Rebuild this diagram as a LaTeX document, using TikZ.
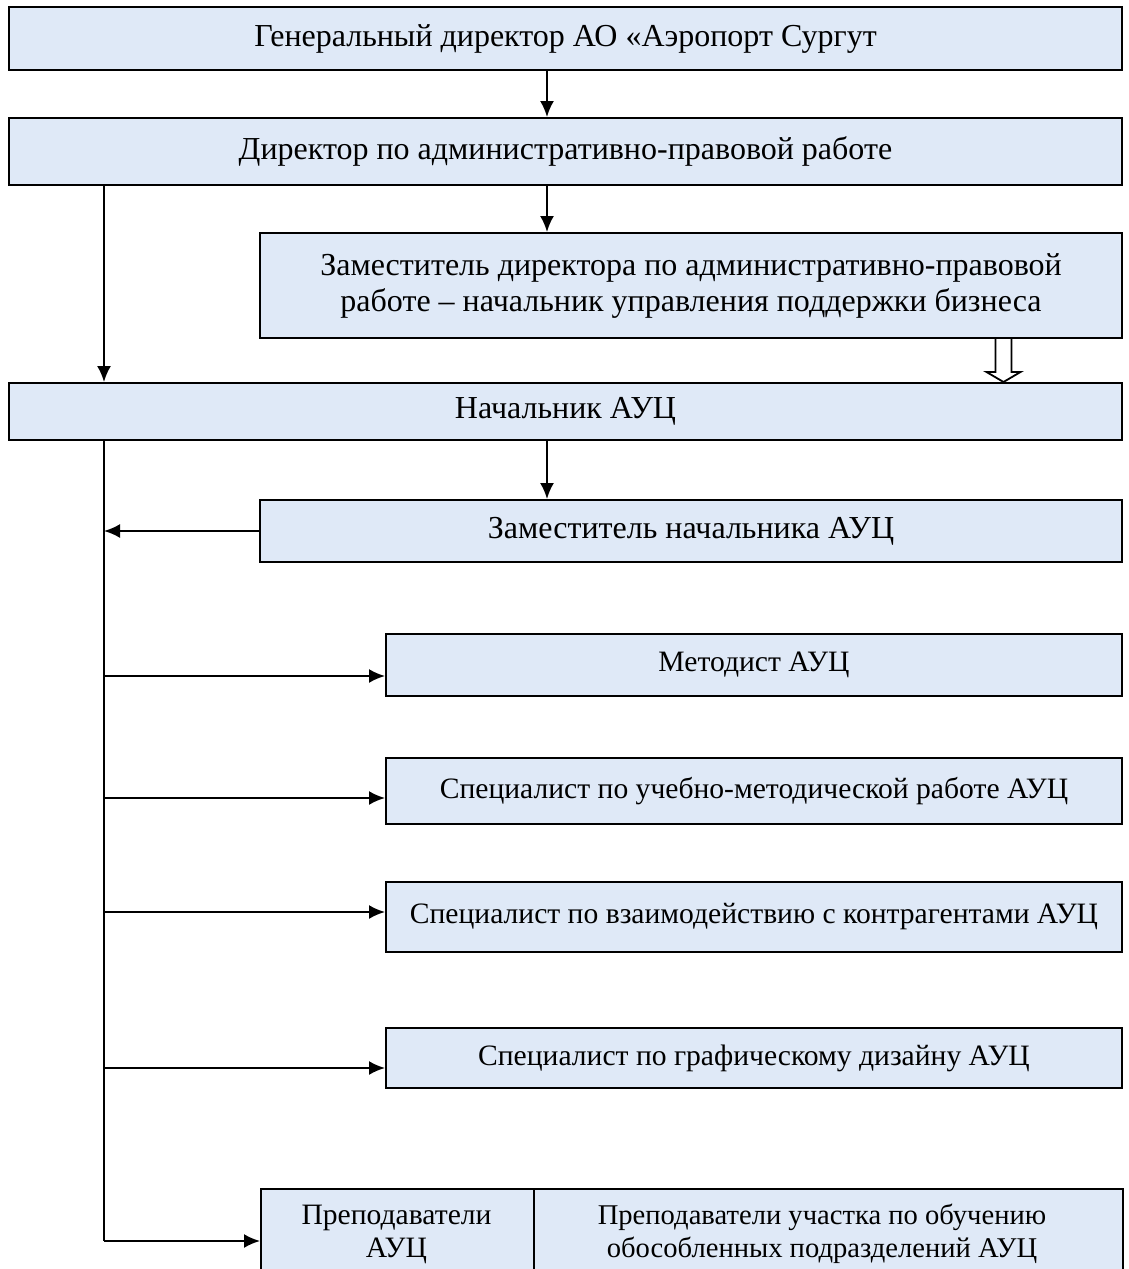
\documentclass[tikz,border=0pt]{standalone}
\usepackage{fontspec}
\setmainfont{Liberation Serif}
\usetikzlibrary{arrows.meta,calc}
\definecolor{boxfill}{RGB}{223,233,247}
\tikzset{
  box/.style={draw=black, line width=2pt, fill=boxfill, inner sep=0pt, align=center,
    font=\fontsize{32}{36}\selectfont},
  small/.style={font=\fontsize{29.6}{33}\selectfont},
  lbl/.style={align=center, inner sep=0pt, font=\fontsize{29.6}{33}\selectfont},
  arr/.style={line width=2pt, -{Latex[length=16pt,width=14pt]}},
  ln/.style={line width=2pt},
}
\begin{document}
\begin{tikzpicture}[x=1pt,y=-1pt]
\useasboundingbox (0,0) rectangle (1128,1269);
\clip (0,0) rectangle (1128,1269);
\fill[white] (0,0) rectangle (1128,1269);
\node[box, minimum width=1113pt, minimum height=63pt] (gen) at (565.5,38.5) {Генеральный директор АО «Аэропорт Сургут};
\node[box, minimum width=1113pt, minimum height=67pt] (dir) at (565.5,151.5) {Директор по административно-правовой работе};
\node[box, minimum width=862pt, minimum height=105pt] (zam) at (691,285.5) {Заместитель директора по административно-правовой\\работе – начальник управления поддержки бизнеса};
\node[box, minimum width=1113pt, minimum height=57pt] (nach) at (565.5,411.5) {Начальник АУЦ};
\node[box, minimum width=862pt, minimum height=62pt] (zn) at (691,531) {Заместитель начальника АУЦ};
\node[box, small, minimum width=736pt, minimum height=62pt] (met) at (754,665) {Методист АУЦ};
\node[box, small, minimum width=736pt, minimum height=66pt] (sum) at (754,791) {Специалист по учебно-методической работе АУЦ};
\node[box, small, minimum width=736pt, minimum height=70pt] (svk) at (754,917) {Специалист по взаимодействию с контрагентами АУЦ};
\node[box, small, minimum width=736pt, minimum height=60pt] (sgd) at (754,1058) {Специалист по графическому дизайну АУЦ};
\node[box, minimum width=273pt, minimum height=110pt, anchor=north west] (prep) at (260,1188) {};
\node[box, minimum width=589pt, minimum height=110pt, anchor=north west] (prepo) at (533,1188) {};
\node[lbl] (prept) at (396.5,1234) {Преподаватели\\АУЦ};
\node[lbl, font=\fontsize{28.6}{33}\selectfont] (prepot) at (822,1234) {Преподаватели участка по обучению\\обособленных подразделений АУЦ};
% vertical arrows
\draw[arr] (gen.south -| 547,0) -- (dir.north -| 547,0);
\draw[arr] (dir.south -| 547,0) -- (zam.north -| 547,0);
\draw[arr] (dir.south -| 104,0) -- (nach.north -| 104,0);
\draw[arr] (nach.south -| 547,0) -- (zn.north -| 547,0);
% hollow arrow
\coordinate (ha) at (zam.south -| 1003.5,0);
\draw[line width=1.8pt, fill=white, line join=miter]
  ($(ha)+(-8,0)$) -- ++(0,33) -- ++(-9,0) -- (nach.north -| 1003.5,0) -- ($(ha)+(17,33)$) -- ++(-9,0) -- ($(ha)+(8,0)$);
% trunk
\coordinate (trunk) at (104,1241);
\draw[ln] (nach.south -| trunk) -- (trunk);
\draw[arr] (zn.west) -- (zn.west -| trunk);
\draw[arr] (104,676) -- (met.west |- 0,676);
\draw[arr] (104,798) -- (sum.west |- 0,798);
\draw[arr] (104,912) -- (svk.west |- 0,912);
\draw[arr] (104,1068) -- (sgd.west |- 0,1068);
\draw[arr] (trunk) -- (prep.west |- trunk);
\end{tikzpicture}
\end{document}
